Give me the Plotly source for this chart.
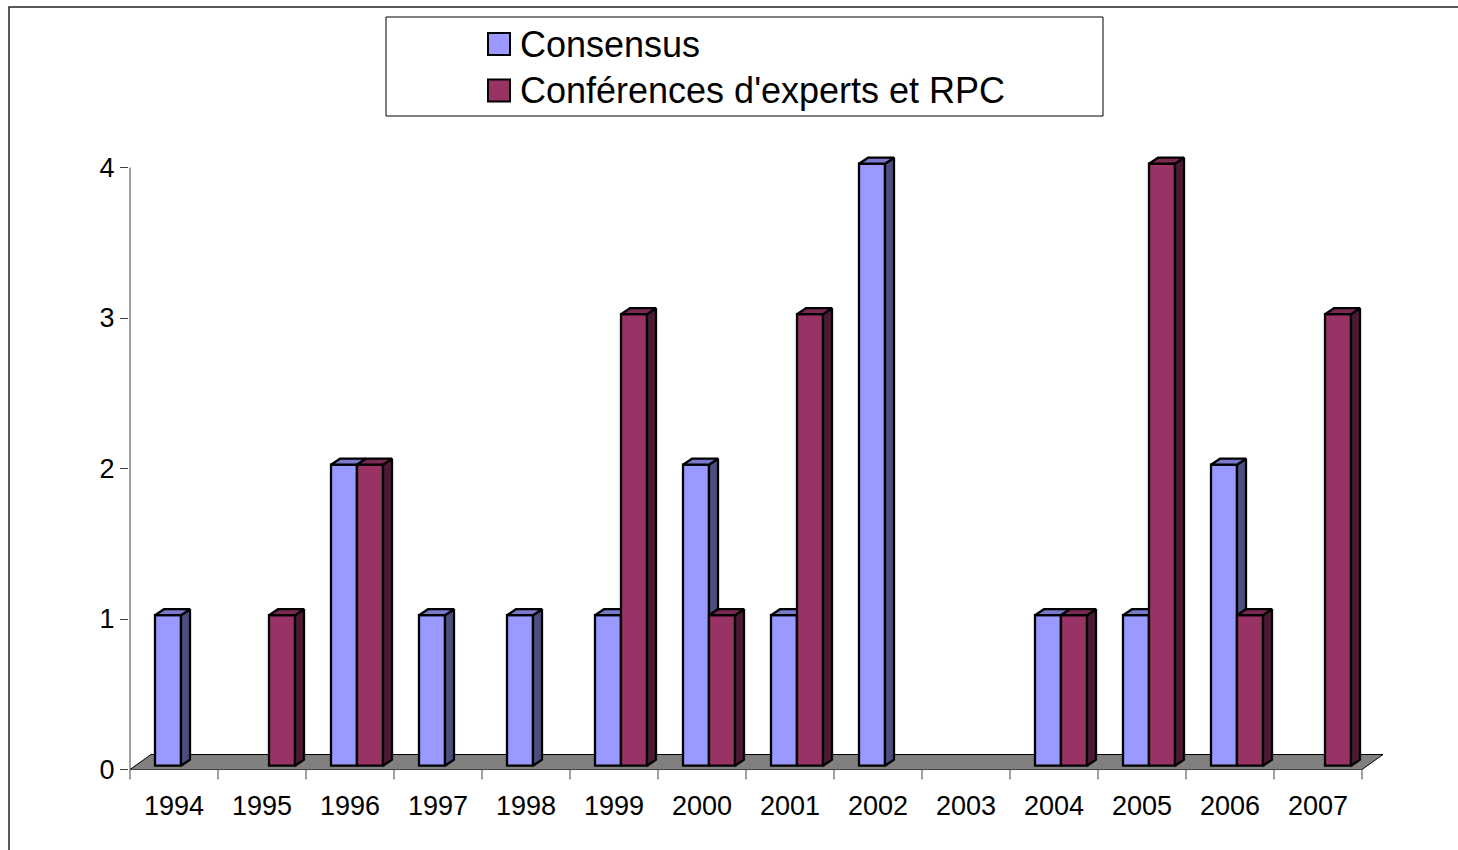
import plotly.graph_objects as go

# ---- data -------------------------------------------------------------
years = ["1994", "1995", "1996", "1997", "1998", "1999", "2000",
         "2001", "2002", "2003", "2004", "2005", "2006", "2007"]
consensus = [1, 0, 2, 1, 1, 1, 2, 1, 4, 0, 1, 1, 2, 0]
conferences = [0, 1, 2, 0, 0, 3, 1, 3, 0, 0, 1, 4, 1, 3]
y_ticks = [0, 1, 2, 3, 4]
series_names = ["Consensus", "Conférences d'experts et RPC"]

# ---- page / plot-area geometry ---------------------------------------
W, H = 1458, 850
M_L, M_R, M_T, M_B = 129, 65, 130, 69
PX_CAT = 88.0        # pixels per category
PX_UNIT = 150.5      # pixels per value unit
X0_PX = 130.0        # pixel of the left edge of the first category
Y0_PX = 769.5        # pixel of value 0
plot_w = W - M_L - M_R
plot_h = H - M_T - M_B
x_lo = -0.5 - (X0_PX - M_L) / PX_CAT
x_hi = x_lo + plot_w / PX_CAT
y_lo = -(H - M_B - Y0_PX) / PX_UNIT
y_hi = y_lo + plot_h / PX_UNIT


def dx(px):
    return px / PX_CAT


def dy(px):
    return px / PX_UNIT


def paper_x(px):
    return (px - M_L) / plot_w


def paper_y(py):
    return (H - M_B - py) / plot_h


FONT = "Liberation Sans, Arial, sans-serif"

# 3-D look: front faces pushed back a little, bars have a depth
BAR_W = dx(26)
SHIFT_X, SHIFT_Y = dx(7), dy(3.8)
DEPTH_X, DEPTH_Y = dx(9), dy(6)
FLOOR_X, FLOOR_Y = dx(21), dy(15)

styles = [
    dict(front="#9999FF", top="#7A7ACC", side="#4D4D80", offset=SHIFT_X - BAR_W,
         xaxis="x", yaxis="y"),
    dict(front="#993366", top="#7A2952", side="#4D1A33", offset=SHIFT_X,
         xaxis="x2", yaxis="y2"),
]

fig = go.Figure()
cats = list(range(len(years)))

for values, st in zip([consensus, conferences], styles):
    shown = [v if v > 0 else None for v in values]
    fig.add_trace(go.Bar(
        x=cats, y=shown, base=SHIFT_Y, width=BAR_W, offset=st["offset"],
        marker=dict(color=st["front"], line=dict(color="black", width=2.3)),
        xaxis=st["xaxis"], yaxis=st["yaxis"], showlegend=False, hoverinfo="skip",
    ))
    top_x, top_y, side_x, side_y = [], [], [], []
    for i, v in zip(cats, values):
        if v <= 0:
            continue
        x0 = i + st["offset"]
        x1 = x0 + BAR_W
        b = SHIFT_Y
        t = v + SHIFT_Y
        top_x += [x0, x1, x1 + DEPTH_X, x0 + DEPTH_X, x0, None]
        top_y += [t, t, t + DEPTH_Y, t + DEPTH_Y, t, None]
        side_x += [x1, x1 + DEPTH_X, x1 + DEPTH_X, x1, x1, None]
        side_y += [b, b + DEPTH_Y, t + DEPTH_Y, t, b, None]
    for fx, fy, col in [(side_x, side_y, st["side"]), (top_x, top_y, st["top"])]:
        fig.add_trace(go.Scatter(
            x=fx, y=fy, mode="lines", fill="toself", fillcolor=col,
            line=dict(color="black", width=2.3), connectgaps=False,
            xaxis=st["xaxis"], yaxis=st["yaxis"], showlegend=False, hoverinfo="skip",
        ))

# ---- floor, axis lines, category tick marks ---------------------------
first_b, last_b = cats[0] - 0.5, cats[-1] + 0.5
shapes = [
    dict(type="path", xref="x", yref="y", layer="below",
         path=(f"M {first_b},0 L {last_b},0 L {last_b + FLOOR_X},{FLOOR_Y} "
               f"L {first_b + FLOOR_X},{FLOOR_Y} Z"),
         fillcolor="#808080", line=dict(color="black", width=1)),
    dict(type="line", xref="x", yref="y", layer="below",
         x0=first_b, x1=last_b, y0=0, y1=0, line=dict(color="#404040", width=1)),
    dict(type="line", xref="x", yref="y", layer="below",
         x0=first_b, x1=first_b, y0=0, y1=max(y_ticks), line=dict(color="#404040", width=1)),
]
for k in range(len(years) + 1):
    bx = first_b + k
    shapes.append(dict(type="line", xref="x", yref="y", layer="below",
                       x0=bx, x1=bx, y0=0, y1=-dy(10),
                       line=dict(color="#404040", width=1)))

# ---- chart frame and legend -------------------------------------------
shapes.append(dict(type="rect", xref="paper", yref="paper",
                   x0=paper_x(9), x1=paper_x(1475), y0=paper_y(7), y1=paper_y(870),
                   line=dict(color="#222222", width=1.5), fillcolor="rgba(0,0,0,0)"))
shapes.append(dict(type="rect", xref="paper", yref="paper",
                   x0=paper_x(386), x1=paper_x(1103), y0=paper_y(17), y1=paper_y(116),
                   line=dict(color="black", width=1), fillcolor="white"))
annotations = []
for k, (name, st) in enumerate(zip(series_names, styles)):
    cy = 44 + 46.5 * k
    shapes.append(dict(type="rect", xref="paper", yref="paper",
                       x0=paper_x(488), x1=paper_x(510), y0=paper_y(cy - 11), y1=paper_y(cy + 11),
                       line=dict(color="black", width=2), fillcolor=st["front"]))
    annotations.append(dict(xref="paper", yref="paper", x=paper_x(518), y=paper_y(cy),
                            xanchor="left", yanchor="middle", showarrow=False, text=name,
                            font=dict(family=FONT, size=36, color="black")))

fig.update_layout(
    width=W, height=H,
    margin=dict(l=M_L, r=M_R, t=M_T, b=M_B, pad=0),
    paper_bgcolor="white", plot_bgcolor="white",
    barmode="overlay",
    font=dict(family=FONT, color="black"),
    xaxis=dict(range=[x_lo, x_hi], tickmode="array", tickvals=cats, ticktext=years,
               ticks="", showline=False, showgrid=False, zeroline=False,
               tickfont=dict(size=27), ticklabelstandoff=6),
    yaxis=dict(range=[y_lo, y_hi], tickmode="array", tickvals=y_ticks,
               ticktext=[str(v) for v in y_ticks],
               ticks="outside", ticklen=8, tickcolor="#404040", tickwidth=1,
               showline=False, showgrid=False, zeroline=False,
               tickfont=dict(size=27)),
    xaxis2=dict(range=[x_lo, x_hi], overlaying="x", anchor="y2", visible=False),
    yaxis2=dict(range=[y_lo, y_hi], overlaying="y", anchor="x2", visible=False),
    shapes=shapes,
    annotations=annotations,
    showlegend=False,
)

fig.write_html("out.html")
